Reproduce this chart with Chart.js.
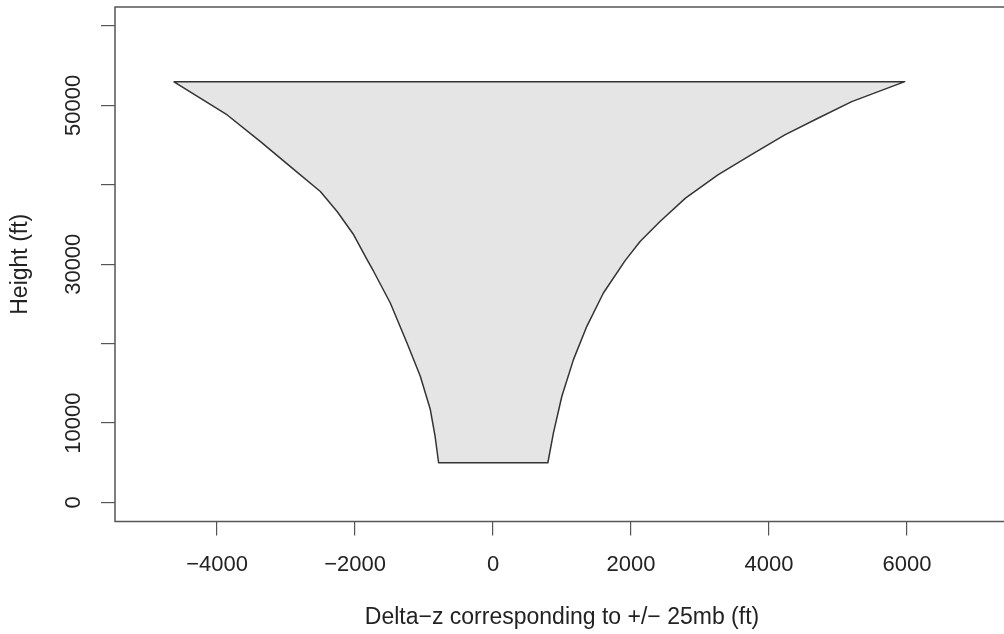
<!DOCTYPE html>
<html>
<head>
<meta charset="utf-8">
<script src="https://cdn.jsdelivr.net/npm/chart.js@4/dist/chart.umd.min.js"></script>
<style>
  html, body { margin: 0; padding: 0; background: #fff; overflow: hidden; }
  #wrap { width: 1004px; height: 634px; overflow: hidden; }
</style>
</head>
<body>
<div id="wrap"><canvas id="plot" width="1010" height="634"></canvas></div>
<script>
// left edge of the shape, top to bottom (delta-z ft, height ft)
var leftDz = [-4630, -3853, -3371, -2850, -2503, -2260, -2020, -1826, -1730, -1489, -1247, -1054, -909, -840, -789];
var leftH  = [53000, 48800, 45450, 41670, 39160, 36640, 33710, 30570, 29090, 25120, 20090, 15890, 11700, 8340, 5000];
// right edge of the shape, bottom to top
var rightDz = [795, 876, 998, 1166, 1360, 1600, 1915, 2132, 2421, 2790, 3260, 3740, 4230, 4710, 5200, 5969];
var rightH  = [5000, 8770, 13370, 17990, 22180, 26380, 30460, 32870, 35380, 38330, 41260, 43770, 46290, 48390, 50480, 53000];

var xTicks = [-4000, -2000, 0, 2000, 4000, 6000];
var yTicks = [0, 10000, 20000, 30000, 40000, 50000, 60000];
var yTickLabels = [0, 10000, 30000, 50000];   // R dropped 20000, 40000, 60000
var xTitle = "Delta\u2212z corresponding to +/\u2212 25mb (ft)";
var yTitle = "Height (ft)";

var pts = [];
for (var i = 0; i < leftDz.length; i++) pts.push({x: leftDz[i], y: leftH[i]});
for (var j = 0; j < rightDz.length; j++) pts.push({x: rightDz[j], y: rightH[j]});
pts.push({x: leftDz[0], y: leftH[0]});   // close the top edge

var fontFam = '"Liberation Sans", Arial, Helvetica, sans-serif';

var rPlot = {
  id: "rPlot",
  afterDraw: function(chart) {
    var c = chart.ctx, a = chart.chartArea;
    var xs = chart.scales.x, ys = chart.scales.y;
    c.save();
    // frame
    c.strokeStyle = "#555";
    c.lineWidth = 1.5;
    c.strokeRect(a.left, a.top, a.right - a.left, a.bottom - a.top);
    c.fillStyle = "#222";
    // x tick labels
    c.font = "22px " + fontFam;
    c.textAlign = "center";
    c.textBaseline = "middle";
    xTicks.forEach(function(v) {
      var s = v < 0 ? "\u2212" + Math.abs(v) : String(v);
      c.fillText(s, xs.getPixelForValue(v), 565);
    });
    // y tick labels, rotated
    yTickLabels.forEach(function(v) {
      c.save();
      c.translate(74, ys.getPixelForValue(v));
      c.rotate(-Math.PI / 2);
      c.fillText(String(v), 0, 0);
      c.restore();
    });
    // axis titles
    c.font = "23px " + fontFam;
    c.fillText(xTitle, (a.left + a.right) / 2, 618);
    c.save();
    c.translate(21, (a.top + a.bottom) / 2);
    c.rotate(-Math.PI / 2);
    c.fillText(yTitle, 0, 0);
    c.restore();
    c.restore();
  }
};

function fixTicks(list) {
  return function(s) { s.ticks = list.map(function(v) { return {value: v}; }); };
}

new Chart(document.getElementById("plot").getContext("2d"), {
  type: "scatter",
  data: {
    datasets: [{
      data: pts,
      showLine: true,
      fill: "shape",
      backgroundColor: "#e5e5e5",
      borderColor: "#333",
      borderWidth: 1.5,
      borderJoinStyle: "round",
      pointRadius: 0,
      tension: 0
    }]
  },
  options: {
    responsive: false,
    animation: false,
    devicePixelRatio: 1,
    layout: { padding: { top: 7, right: 1, left: 0, bottom: 0 } },
    plugins: { legend: { display: false }, tooltip: { enabled: false } },
    scales: {
      x: {
        type: "linear",
        min: -5480, max: 7480,
        border: { display: false },
        grid: { drawOnChartArea: false, drawTicks: true, tickLength: 14, color: "#555", lineWidth: 1.2 },
        ticks: { display: false },
        afterBuildTicks: fixTicks(xTicks),
        afterFit: function(s) { s.height = 112.5; }
      },
      y: {
        type: "linear",
        min: -2400, max: 62400,
        border: { display: false },
        grid: { drawOnChartArea: false, drawTicks: true, tickLength: 14, color: "#555", lineWidth: 1.2 },
        ticks: { display: false },
        afterBuildTicks: fixTicks(yTicks),
        afterFit: function(s) { s.width = 115; }
      }
    }
  },
  plugins: [rPlot]
});
</script>
</body>
</html>
